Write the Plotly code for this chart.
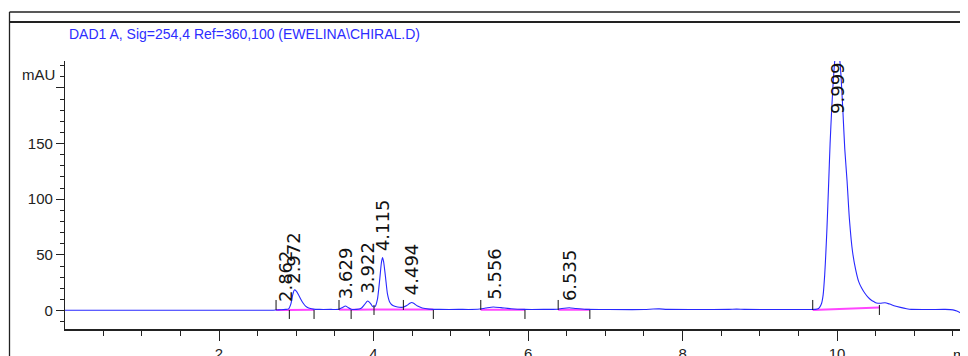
import numpy as np
import plotly.graph_objects as go

# ---------------- data ----------------
time_min = [0.0, 1.0, 2.0, 2.70, 2.75, 2.80, 2.862, 2.90, 2.93, 2.95, 2.975, 3.00, 3.03, 3.06,
            3.09, 3.12, 3.16, 3.22, 3.30, 3.45, 3.55, 3.60, 3.635, 3.67, 3.71, 3.78, 3.84,
            3.88, 3.922, 3.96, 3.99, 4.02, 4.05, 4.08, 4.10, 4.115, 4.13, 4.155, 4.18, 4.21,
            4.25, 4.31, 4.38, 4.43, 4.47, 4.494, 4.52, 4.57, 4.63, 4.72, 4.85, 5.10, 5.35,
            5.45, 5.55, 5.65, 5.78, 5.95, 6.20, 6.38, 6.47, 6.535, 6.62, 6.75, 7.00, 7.50,
            7.62, 7.70, 7.80, 8.20, 8.60, 8.70, 8.80, 9.20, 9.60, 9.72, 9.76, 9.78, 9.80,
            9.82, 9.84, 9.855, 9.87, 9.89, 9.91, 9.93, 9.95, 9.975, 10.00, 10.025, 10.05,
            10.075, 10.10, 10.13, 10.16, 10.20, 10.24, 10.28, 10.32, 10.36, 10.40, 10.44,
            10.48, 10.51, 10.56, 10.62, 10.68, 10.75, 10.82, 10.90, 10.96, 11.20, 11.40,
            11.50, 11.55, 11.62, 11.70]
signal_mau = [0.2, 0.2, 0.2, 0.3, 0.5, 0.7, 1.0, 1.5, 6.0, 13.0, 18.5, 17.5, 14.0, 10.0,
              6.5, 4.0, 2.2, 1.3, 1.0, 1.0, 1.1, 2.8, 4.0, 2.8, 1.2, 1.0, 2.0,
              5.0, 8.5, 6.5, 3.5, 3.5, 10.0, 28.0, 42.0, 47.5, 44.0, 30.0, 15.0, 7.5,
              4.5, 3.2, 3.0, 4.5, 6.5, 7.2, 6.5, 4.0, 2.3, 1.3, 1.0, 1.0, 1.1,
              2.2, 3.2, 2.6, 1.6, 1.0, 1.0, 1.2, 2.1, 2.5, 1.8, 1.0, 0.9, 0.9,
              1.4, 1.5, 1.0, 0.9, 1.0, 1.3, 1.0, 0.9, 0.9, 1.0, 1.8, 3.5, 6.5,
              14.0, 32.0, 52.0, 75.0, 112.0, 150.0, 180.0, 205.0, 228.0, 240.0, 232.0, 212.0,
              180.0, 145.0, 116.0, 82.0, 53.0, 37.0, 26.0, 20.0, 15.5, 12.0, 9.4,
              7.8, 6.8, 6.5, 7.0, 5.8, 4.0, 2.8, 1.6, 1.0, 0.9, 1.0,
              0.6, -0.5, -3.0, -6.0]

peak_times = [2.862, 2.972, 3.629, 3.922, 4.115, 4.494, 5.556, 6.535, 9.999]
peak_labels = ["2.862", "2.972", "3.629", "3.922", "4.115", "4.494", "5.556", "6.535", "9.999"]

baseline_start_t = [2.738, 2.91, 3.553, 3.71, 4.006, 4.386, 5.388, 6.39, 9.685]
baseline_start_v = [0.4, 0.5, 0.8, 0.8, 0.9, 0.9, 0.8, 0.8, 0.5]
baseline_end_t = [2.91, 3.23, 3.71, 4.006, 4.386, 4.774, 5.96, 6.80, 10.548]
baseline_end_v = [0.5, 0.8, 0.8, 0.9, 0.9, 0.9, 0.8, 0.6, 2.8]

marker_t = [2.738, 2.91, 3.23, 3.553, 3.71, 4.006, 4.386, 4.774, 5.388, 5.96, 6.39, 6.80, 9.685, 10.548]
marker_side = ["up", "down", "down", "up", "down", "mid", "up", "down", "up", "down", "up", "down", "up", "mid"]

x_tick_step = 2
y_tick_vals = [0, 50, 100, 150, 200]
y_tick_text = ["0", "50", "100", "150", ""]

title_text = "DAD1 A, Sig=254,4 Ref=360,100 (EWELINA\\CHIRAL.D)"
y_unit = "mAU"
x_unit = "min"

# ---------------- layout constants ----------------
# the page body adds an 8 px margin, so the figure is 8 px smaller and all
# positions (given in window pixels) are shifted by 8 px
OFF = 8
W, H = 968 - OFF, 356 - OFF
PLOT_L, PLOT_R, PLOT_T, PLOT_B = 65 - OFF, 968 - OFF, 61 - OFF, 329 - OFF
ML, MR, MT, MB = PLOT_L, W - PLOT_R, PLOT_T, H - PLOT_B
PW, PH = W - ML - MR, H - MT - MB
SANS = "Liberation Sans, Arial, sans-serif"
LABEL_FONT = "DejaVu Sans, Verdana, sans-serif"


def px_to_paper_x(px):
    return (px - OFF - ML) / PW


def px_to_paper_y(py):
    return 1 - (py - OFF - MT) / PH


fig = go.Figure()

# integration baselines (magenta)
bx, by = [], []
for t0, v0, t1, v1 in zip(baseline_start_t, baseline_start_v, baseline_end_t, baseline_end_v):
    bx += [t0, t1, None]
    by += [v0, v1, None]
fig.add_trace(go.Scatter(x=bx, y=by, mode="lines", line=dict(color="rgba(255,50,255,0.9)", width=2),
                         hoverinfo="skip", showlegend=False))

# signal
fig.add_trace(go.Scatter(x=time_min, y=signal_mau, mode="lines",
                         line=dict(color="rgb(40,40,255)", width=1.1, shape="spline", smoothing=0.6),
                         showlegend=False))

shapes = []
# peak start / end markers
for t, side in zip(marker_t, marker_side):
    if side == "up":
        y0, y1 = 0, 10
    elif side == "down":
        y0, y1 = 0, -9
    else:
        y0, y1 = 5, -5
    shapes.append(dict(type="line", xref="x", yref="y", ysizemode="pixel", yanchor=0.5,
                       x0=t, x1=t, y0=y0, y1=y1, line=dict(color="#111", width=1)))

# frame lines
shapes.append(dict(type="line", xref="paper", yref="paper",
                   x0=px_to_paper_x(9.5), x1=px_to_paper_x(972),
                   y0=px_to_paper_y(12), y1=px_to_paper_y(12), line=dict(color="#222", width=1.3)))
shapes.append(dict(type="line", xref="paper", yref="paper",
                   x0=px_to_paper_x(9.5), x1=px_to_paper_x(972),
                   y0=px_to_paper_y(22), y1=px_to_paper_y(22), line=dict(color="#222", width=2)))
shapes.append(dict(type="line", xref="paper", yref="paper",
                   x0=px_to_paper_x(9.5), x1=px_to_paper_x(9.5),
                   y0=px_to_paper_y(12), y1=px_to_paper_y(360), line=dict(color="#222", width=1.3)))

annotations = []
for t, lab in zip(peak_times, peak_labels):
    apex = float(np.interp(t, time_min, signal_mau))
    if apex > 150:
        annotations.append(dict(x=t, y=1, xref="x", yref="paper", text=lab, textangle=-90,
                                showarrow=False, xanchor="center", yanchor="top", yshift=1,
                                font=dict(family=LABEL_FONT, size=18, color="#111")))
    else:
        annotations.append(dict(x=t, y=apex, xref="x", yref="y", text=lab, textangle=-90,
                                showarrow=False, xanchor="center", yanchor="bottom", yshift=5,
                                font=dict(family=LABEL_FONT, size=18, color="#111")))

annotations.append(dict(x=px_to_paper_x(67), y=px_to_paper_y(34), xref="paper", yref="paper",
                        text=title_text, showarrow=False, xanchor="left", yanchor="middle",
                        font=dict(family=SANS, size=14, color="rgb(45,45,255)")))
annotations.append(dict(x=px_to_paper_x(57), y=px_to_paper_y(74), xref="paper", yref="paper",
                        text=y_unit, showarrow=False, xanchor="right", yanchor="middle",
                        font=dict(family=SANS, size=15, color="#222")))
annotations.append(dict(x=11.5, y=px_to_paper_y(344), xref="x", yref="paper",
                        text=x_unit, showarrow=False, xanchor="left", yanchor="top", xshift=-2,
                        font=dict(family=SANS, size=15, color="#222")))

fig.update_layout(
    width=W, height=H, autosize=False,
    margin=dict(l=ML, r=MR, t=MT, b=MB, pad=0),
    paper_bgcolor="white", plot_bgcolor="white",
    shapes=shapes, annotations=annotations,
    xaxis=dict(range=[0.006, 11.695], showgrid=False, zeroline=False, automargin=False,
               showline=True, linecolor="#222", linewidth=1.5,
               ticks="outside", tickmode="linear", tick0=0, dtick=x_tick_step,
               ticklen=10, tickcolor="#222", tickwidth=1,
               ticklabelstandoff=0,
               tickfont=dict(family=SANS, size=15, color="#222"),
               minor=dict(ticks="outside", tickmode="linear", tick0=0, dtick=0.5,
                          ticklen=5, tickcolor="#222", tickwidth=1)),
    yaxis=dict(range=[-16.6, 224.2], showgrid=False, zeroline=False, automargin=False,
               showline=True, linecolor="#222", linewidth=1.3,
               ticks="outside", tickmode="array", tickvals=y_tick_vals, ticktext=y_tick_text,
               ticklen=8, tickcolor="#222", tickwidth=1,
               tickfont=dict(family=SANS, size=15, color="#222"),
               minor=dict(ticks="outside", tickmode="linear", tick0=0, dtick=10,
                          ticklen=4, tickcolor="#222", tickwidth=1)),
)

fig.write_html("out.html")
